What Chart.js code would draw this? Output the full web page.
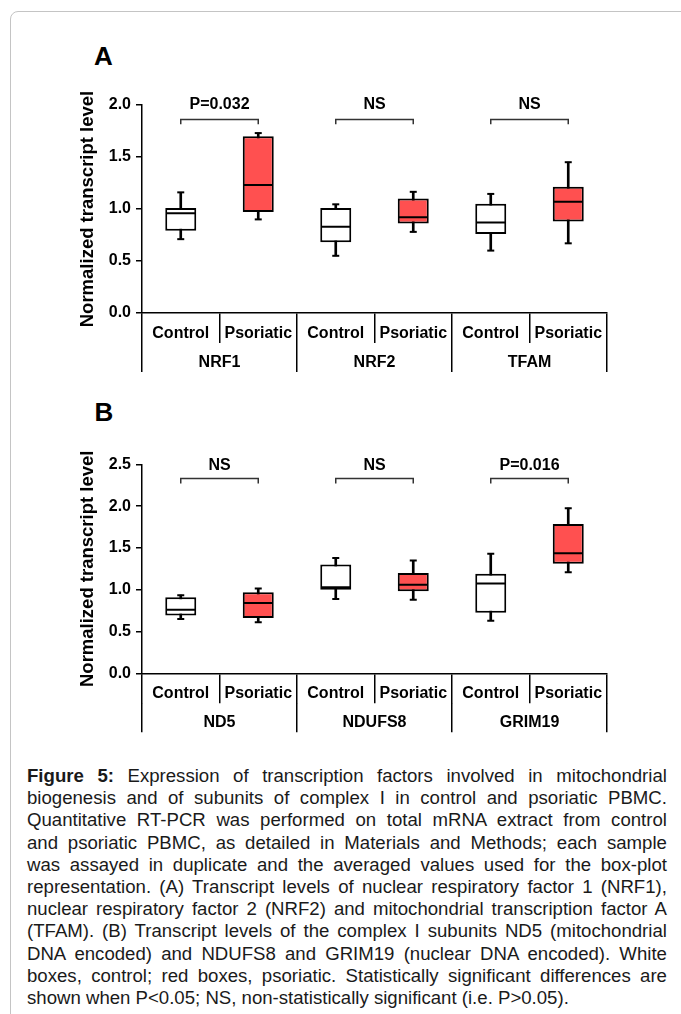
<!DOCTYPE html>
<html>
<head>
<meta charset="utf-8">
<script src="https://cdn.jsdelivr.net/npm/chart.js@4.4.0/dist/chart.umd.min.js"></script>
<style>
  html, body { margin: 0; padding: 0; background: #fff; }
  body { width: 681px; height: 1014px; position: relative; overflow: hidden; font-family: 'Liberation Sans', Arial, sans-serif; }
  .frame { position: absolute; left: 10px; top: 11px; width: 700px; height: 1040px; border: 1px solid #c4c4c4; border-radius: 8px; }
  canvas { position: absolute; left: 0; }
  .panel { position: absolute; font-weight: bold; font-size: 26px; transform: translate(-50%, -50%); color: #000; }
  .caption { position: absolute; left: 27px; top: 765px; width: 602px; font-family: 'Liberation Sans', Arial, sans-serif;
             font-size: 17.5px; line-height: 22.2px; color: #1a1a1a; transform: scaleX(1.063); transform-origin: 0 0; }
  .caption div { text-align: justify; text-align-last: justify; white-space: nowrap; }
  .caption div.last { text-align-last: left; }
</style>
</head>
<body>
<div class="frame"></div>
<div class="panel" style="left:103.5px; top:56px;">A</div>
<div class="panel" style="left:104px; top:412px;">B</div>
<canvas id="chartA" width="681" height="385" style="top:0; width:681px; height:385px;"></canvas>
<canvas id="chartB" width="681" height="360" style="top:385px; width:681px; height:360px;"></canvas>
<div class="caption" id="caption"></div>

<script>
// categories
var conditions = ['Control', 'Psoriatic', 'Control', 'Psoriatic', 'Control', 'Psoriatic'];
var groupsA = ['NRF1', 'NRF2', 'TFAM'];
var groupsB = ['ND5', 'NDUFS8', 'GRIM19'];

// panel A box-plot values (min, q1, median, q3, max)
var minA = [0.71, 0.90, 0.55, 0.78, 0.60, 0.67];
var q1A  = [0.79, 0.97, 0.68, 0.86, 0.76, 0.88];
var medA = [0.96, 1.23, 0.83, 0.92, 0.87, 1.07];
var q3A  = [1.01, 1.70, 1.01, 1.10, 1.05, 1.215];
var maxA = [1.16, 1.73, 1.045, 1.165, 1.145, 1.45];

// panel B box-plot values
var minB = [0.65, 0.61, 0.89, 0.88, 0.63, 1.21];
var q1B  = [0.69, 0.66, 1.00, 0.98, 0.725, 1.31];
var medB = [0.76, 0.84, 1.03, 1.06, 1.075, 1.435];
var q3B  = [0.91, 0.97, 1.30, 1.20, 1.19, 1.785];
var maxB = [0.935, 1.015, 1.38, 1.35, 1.43, 1.975];

// significance labels
var sigA = ['P=0.032', 'NS', 'NS'];
var sigB = ['NS', 'NS', 'P=0.016'];

var ticksA = [0, 0.5, 1.0, 1.5, 2.0];
var ticksB = [0, 0.5, 1.0, 1.5, 2.0, 2.5];

var captionLines = [
  '<b>Figure 5:</b> Expression of transcription factors involved in mitochondrial',
  'biogenesis and of subunits of complex I in control and psoriatic PBMC.',
  'Quantitative RT-PCR was performed on total mRNA extract from control',
  'and psoriatic PBMC, as detailed in Materials and Methods; each sample',
  'was assayed in duplicate and the averaged values used for the box-plot',
  'representation. (A) Transcript levels of nuclear respiratory factor 1 (NRF1),',
  'nuclear respiratory factor 2 (NRF2) and mitochondrial transcription factor A',
  '(TFAM). (B) Transcript levels of the complex I subunits ND5 (mitochondrial',
  'DNA encoded) and NDUFS8 and GRIM19 (nuclear DNA encoded). White',
  'boxes, control; red boxes, psoriatic. Statistically significant differences are',
  'shown when P&lt;0.05; NS, non-statistically significant (i.e. P&gt;0.05).'
];

var cap = document.getElementById('caption');
captionLines.forEach(function (l, i) {
  var d = document.createElement('div');
  d.innerHTML = l;
  if (i === captionLines.length - 1) d.className = 'last';
  cap.appendChild(d);
});

var RED = '#ff5050';
var boldFont = { family: "'Liberation Sans', Arial, sans-serif", weight: 'bold', size: 16 };

// brackets + P / NS labels above each pair
var sigPlugin = {
  id: 'sig',
  afterDatasetsDraw: function (chart, args, opts) {
    var ctx = chart.ctx, x = chart.scales.x, y = chart.scales.y;
    ctx.save();
    opts.texts.forEach(function (t, i) {
      var x1 = x.getPixelForValue(2 * i), x2 = x.getPixelForValue(2 * i + 1);
      var yb = y.getPixelForValue(opts.bracket);
      var yt = y.getPixelForValue(opts.bracket - opts.drop);
      ctx.strokeStyle = '#333';
      ctx.lineWidth = 1.5;
      ctx.beginPath();
      ctx.moveTo(x1, yt); ctx.lineTo(x1, yb); ctx.lineTo(x2, yb); ctx.lineTo(x2, yt);
      ctx.stroke();
      ctx.fillStyle = '#000';
      ctx.font = 'bold 16px "Liberation Sans", Arial, sans-serif';
      ctx.textAlign = 'center';
      ctx.textBaseline = 'middle';
      ctx.fillText(t, (x1 + x2) / 2, y.getPixelForValue(opts.label));
    });
    ctx.restore();
  }
};

function makeChart(id, groups, mn, q1, md, q3, mx, yMax, sig, bracket, drop, label, pad) {
  var boxes = q1.map(function (v, i) { return [v, q3[i]]; });
  var whiskers = mn.map(function (v, i) { return [v, mx[i]]; });
  var fills = conditions.map(function (c) { return c === 'Control' ? '#ffffff' : RED; });
  var capStyle = { type: 'line', showLine: false, pointStyle: 'line', pointRadius: 3.5,
                   pointBorderWidth: 2, pointBorderColor: '#000', pointBackgroundColor: '#000', order: 0 };
  return new Chart(document.getElementById(id), {
    type: 'bar',
    data: {
      labels: conditions,
      datasets: [
        { label: 'whisker', data: whiskers, backgroundColor: '#000', borderWidth: 0,
          barThickness: 2, grouped: false, order: 2 },
        { label: 'box', data: boxes, backgroundColor: fills, borderColor: '#000', borderWidth: 2,
          borderSkipped: false, grouped: false, barPercentage: 0.4, categoryPercentage: 1, order: 1 },
        Object.assign({ label: 'median', data: md }, capStyle, { pointRadius: 14.5 }),
        Object.assign({ label: 'min', data: mn }, capStyle),
        Object.assign({ label: 'max', data: mx }, capStyle)
      ]
    },
    options: {
      responsive: false,
      animation: false,
      layout: { padding: pad },
      plugins: {
        legend: { display: false },
        tooltip: { enabled: false },
        sig: { texts: sig, bracket: bracket, drop: drop, label: label }
      },
      scales: {
        y: {
          min: 0, max: yMax,
          afterBuildTicks: function (s) {
            s.ticks = (yMax > 2 ? ticksB : ticksA).map(function (v) { return { value: v }; });
          },
          afterFit: function (s) { s.width = 142; },
          ticks: { font: boldFont, color: '#000', padding: 5,
                   callback: function (v) { return Number(v).toFixed(1); } },
          grid: { drawOnChartArea: false, tickLength: 6, color: '#000', lineWidth: 1.5 },
          border: { color: '#000', width: 1.5 },
          title: { display: true, text: 'Normalized transcript level', color: '#000',
                   font: { family: boldFont.family, weight: 'bold', size: 18.5 }, padding: { top: 77, bottom: 0 } }
        },
        x: {
          offset: true,
          afterFit: function (s) { s.height = 30; },
          ticks: { font: boldFont, color: '#000', padding: -19.5, maxRotation: 0, autoSkip: false },
          grid: { offset: true, drawOnChartArea: false, tickLength: 30, color: '#000', lineWidth: 1.5 },
          border: { color: '#000', width: 1.5 }
        },
        x2: {
          type: 'category', position: 'bottom', labels: groups, offset: true, weight: 1,
          afterFit: function (s) { s.height = 29; },
          ticks: { font: boldFont, color: '#000', padding: -19, maxRotation: 0, autoSkip: false },
          grid: { offset: true, drawOnChartArea: false, tickLength: 29, color: '#000', lineWidth: 1.5 },
          border: { display: false }
        }
      }
    },
    plugins: [sigPlugin]
  });
}

makeChart('chartA', groupsA, minA, q1A, medA, q3A, maxA, 2.0, sigA, 1.86, 0.045, 2.0,
  { top: 105, left: 0, right: 74, bottom: 13 });
makeChart('chartB', groupsB, minB, q1B, medB, q3B, maxB, 2.5, sigB, 2.33, 0.06, 2.49,
  { top: 79.3, left: 0, right: 74, bottom: 12.7 });
</script>
</body>
</html>
